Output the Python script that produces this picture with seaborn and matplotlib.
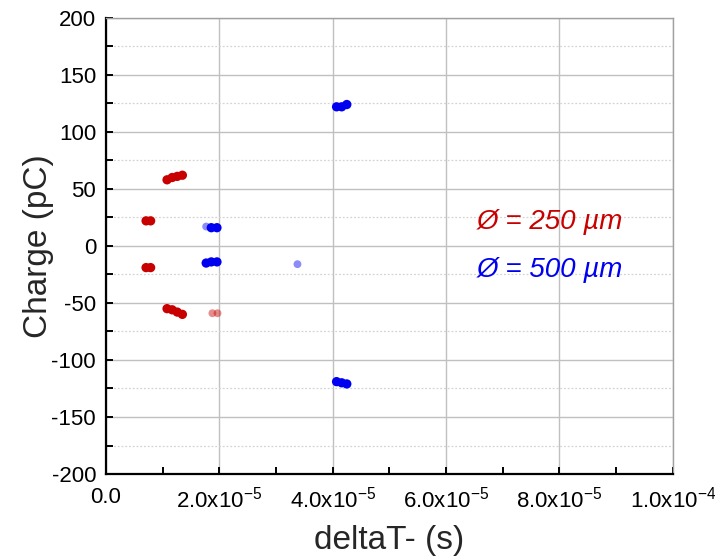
import numpy as np
import pandas as pd
import seaborn as sns
import matplotlib.pyplot as plt
from matplotlib.ticker import MultipleLocator, FixedLocator

# Data (deltaT in s, charge in pC)
red_x = [0.71e-5, 0.79e-5, 0.71e-5, 0.79e-5,
         1.08e-5, 1.17e-5, 1.26e-5, 1.35e-5,
         1.08e-5, 1.17e-5, 1.26e-5, 1.35e-5]
red_y = [22, 22, -19, -19,
         58, 60, 61, 62,
         -55, -56, -58, -60]
red_faint_x = [1.88e-5, 1.97e-5]
red_faint_y = [-59, -59]

blue_x = [1.86e-5, 1.96e-5, 1.77e-5, 1.86e-5, 1.96e-5,
          4.07e-5, 4.16e-5, 4.25e-5,
          4.07e-5, 4.16e-5, 4.25e-5]
blue_y = [16, 16, -15, -14, -14,
          122, 122, 124,
          -119, -120, -121]
blue_faint_x = [1.77e-5, 3.38e-5]
blue_faint_y = [17, -16]

x_ticks = [0, 2e-5, 4e-5, 6e-5, 8e-5, 1e-4]
x_tick_labels = ['0.0', r'2.0x10$^{-5}$', r'4.0x10$^{-5}$', r'6.0x10$^{-5}$',
                 r'8.0x10$^{-5}$', r'1.0x10$^{-4}$']

RED = '#c80000'
BLUE = '#0000f0'

solid = pd.DataFrame({
    'deltaT': red_x + blue_x,
    'charge': red_y + blue_y,
    'size': ['250'] * len(red_x) + ['500'] * len(blue_x),
})
faint = pd.DataFrame({
    'deltaT': red_faint_x + blue_faint_x,
    'charge': red_faint_y + blue_faint_y,
    'size': ['250'] * len(red_faint_x) + ['500'] * len(blue_faint_x),
})

sns.set_style('white')
plt.rcParams['font.family'] = ['Liberation Sans', 'DejaVu Sans']
plt.rcParams['mathtext.default'] = 'regular'
plt.rcParams['axes.unicode_minus'] = False

fig = plt.figure(figsize=(7.15, 5.58), dpi=100)
ax = fig.add_axes([0.148, 0.1505, 0.793, 0.8175])

palette = {'250': RED, '500': BLUE}
sns.scatterplot(data=solid, x='deltaT', y='charge', hue='size', palette=palette,
                s=45, linewidth=0, legend=False, ax=ax, zorder=3)
sns.scatterplot(data=faint, x='deltaT', y='charge', hue='size', palette=palette,
                s=32, linewidth=0, alpha=0.45, legend=False, ax=ax, zorder=3)

ax.set_xlim(0, 1e-4)
ax.set_ylim(-200, 200)
ax.xaxis.set_major_locator(FixedLocator(x_ticks))
ax.set_xticklabels(x_tick_labels)
ax.xaxis.set_minor_locator(MultipleLocator(1e-5))
ax.yaxis.set_major_locator(MultipleLocator(50))
ax.yaxis.set_minor_locator(MultipleLocator(25))

ax.grid(True, which='major', color='#c0c0c0', linewidth=1.0, linestyle='-')
ax.grid(True, which='minor', axis='y', color='#d4d4d4', linewidth=0.9, linestyle=(0, (1.5, 1.5)))
ax.set_axisbelow(True)

ax.tick_params(which='both', direction='in', width=1.4, length=5, colors='black',
               labelsize=16)
ax.tick_params(axis='x', pad=9)
ax.tick_params(axis='y', pad=7)
ax.tick_params(which='both', top=False, right=False, bottom=True, left=True)

for side in ['left', 'bottom']:
    ax.spines[side].set_linewidth(1.6)
    ax.spines[side].set_color('black')
for side in ['top', 'right']:
    ax.spines[side].set_linewidth(1.0)
    ax.spines[side].set_color('#a0a0a0')

ax.set_xlabel('deltaT- (s)', fontsize=24, labelpad=9)
ax.set_ylabel('Charge (pC)', fontsize=24, labelpad=-2)

ax.text(6.55e-5, 21, 'Ø = 250 µm', color=RED, fontsize=20, style='italic', va='center')
ax.text(6.55e-5, -21, 'Ø = 500 µm', color=BLUE, fontsize=20, style='italic', va='center')

fig.savefig('out.png', dpi=100)
